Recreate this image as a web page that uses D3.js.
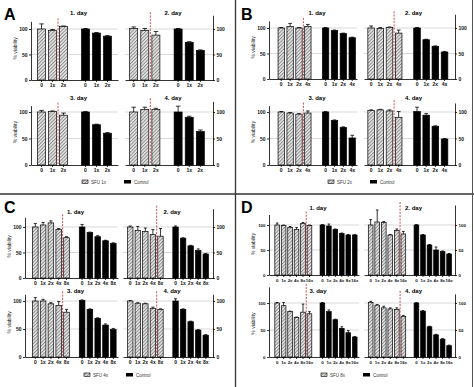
<!DOCTYPE html>
<html>
<head>
<meta charset="utf-8">
<script src="https://cdn.jsdelivr.net/npm/d3@7"></script>
<style>
  body { margin: 0; background: #fff; }
  svg { display: block; font-family: "Liberation Sans", Arial, sans-serif; }
  .axis path, .axis line { stroke: #000; stroke-width: 0.8; }
  .axis text { font-size: 5px; font-weight: bold; fill: #111; }
  .small .axis text { font-size: 4.4px; }
</style>
</head>
<body>
<div id="chart"></div>
<script>
var width = 474,
    height = 387;

var days = ["1. day", "2. day", "3. day", "4. day"];

var dosesA = ["0", "1x", "2x"];
var dosesB = ["0", "1x", "2x", "4x"];
var dosesC = ["0", "1x", "2x", "4x", "8x"];
var dosesD = ["0", "1x", "2x", "4x", "8x", "16x"];

var legendNames = ["SFU 1x", "SFU 2x", "SFU 4x", "SFU 8x"];

// SFU (hatched) means and errors, one row per day
var sfuA = [[100, 97, 105], [101, 97, 88], [100, 101, 94], [100, 105, 105]];
var sfuErrA = [[10, 2, 1], [3, 4, 7], [3, 1, 4], [9, 4, 2]];
var ctrlA = [[100, 92, 86], [100, 74, 58], [100, 76, 60], [100, 90, 63]];
var ctrlErrA = [[1, 1, 1], [1, 1, 1], [1, 1, 1], [11, 2, 3]];

var sfuB = [[100, 103, 100, 103], [100, 99, 101, 90], [100, 98, 96, 98], [103, 104, 102, 90]];
var sfuErrB = [[1, 6, 1, 4], [4, 2, 1, 6], [1, 1, 1, 4], [1, 1, 2, 11]];
var ctrlB = [[100, 95, 89, 81], [100, 77, 64, 53], [100, 84, 71, 51], [101, 94, 73, 49]];
var ctrlErrB = [[1, 1, 1, 1], [1, 1, 1, 1], [1, 1, 1, 5], [8, 3, 1, 1]];

var sfuC = [[100, 104, 108, 95, 79], [100, 93, 91, 85, 82], [100, 100, 95, 92, 80], [100, 96, 95, 87, 85]];
var sfuErrC = [[7, 5, 4, 2, 2], [2, 8, 7, 10, 15], [6, 3, 2, 7, 5], [1, 1, 1, 2, 1]];
var ctrlC = [[100, 89, 81, 73, 68], [100, 78, 63, 54, 47], [101, 85, 69, 57, 49], [100, 85, 63, 48, 39]];
var ctrlErrC = [[5, 1, 2, 1, 1], [2, 1, 1, 3, 1], [1, 1, 1, 2, 2], [4, 1, 1, 1, 1]];

var sfuD = [[100, 99, 95, 91, 103, 99], [100, 106, 105, 80, 89, 82], [100, 95, 84, 73, 83, 80], [101, 96, 91, 89, 88, 75]];
var sfuErrD = [[4, 1, 2, 4, 2, 1], [11, 24, 2, 1, 3, 5], [1, 6, 1, 1, 15, 4], [2, 1, 3, 2, 3, 2]];
var ctrlD = [[100, 98, 91, 83, 80, 80], [100, 80, 60, 50, 47, 42], [100, 84, 69, 53, 45, 37], [100, 85, 56, 41, 33, 21]];
var ctrlErrD = [[1, 4, 1, 1, 1, 1], [1, 1, 1, 6, 1, 1], [1, 3, 1, 3, 4, 1], [1, 1, 1, 1, 1, 1]];

// axis extents per day
var axisTopsA = [115, 127, 112, 120];
var axisTopsB = [114, 127, 112, 117];
var axisTopsC = [119, 136, 112, 112];
var axisTopsD = [121, 140, 130, 117];

var panels = [
  { id: "A", x: 0, y: 0, doses: dosesA, sfu: sfuA, sfuErr: sfuErrA, ctrl: ctrlA, ctrlErr: ctrlErrA, tops: axisTopsA,
    subL: [31, 118], subR: [125, 213], alignL: 0.5, alignR: 0.35,
    base1: 80, base2: 165, h1: 51, h2: 53, title1: 15, legend: legendNames[0], lgX: 82 },
  { id: "B", x: 237, y: 0, doses: dosesB, sfu: sfuB, sfuErr: sfuErrB, ctrl: ctrlB, ctrlErr: ctrlErrB, tops: axisTopsB,
    subL: [32, 120], subR: [127, 218], alignL: 0.85, alignR: 0.35,
    base1: 79, base2: 165, h1: 51, h2: 53, title1: 15, legend: legendNames[1], lgX: 91 },
  { id: "C", x: 0, y: 193, doses: dosesC, sfu: sfuC, sfuErr: sfuErrC, ctrl: ctrlC, ctrlErr: ctrlErrC, tops: axisTopsC,
    subL: [25, 118], subR: [123, 213], alignL: 0.8, alignR: 0.5,
    base1: 85, base2: 164, h1: 51, h2: 56, title1: 21, legend: legendNames[2], lgX: 84 },
  { id: "D", x: 237, y: 193, doses: dosesD, sfu: sfuD, sfuErr: sfuErrD, ctrl: ctrlD, ctrlErr: ctrlErrD, tops: axisTopsD,
    subL: [32, 122], subR: [127, 218], alignL: 0.75, alignR: 0.55,
    base1: 82, base2: 164, h1: 50, h2: 54, title1: 17, legend: legendNames[3], lgX: 84, small: true }
];

var svg = d3.select("#chart")
  .append("svg")
  .attr("width", width)
  .attr("height", height);

svg.append("rect").attr("width", width).attr("height", height).attr("fill", "#fff");

var pat = svg.append("defs").append("pattern")
  .attr("id", "hatch")
  .attr("patternUnits", "userSpaceOnUse")
  .attr("width", 2.4)
  .attr("height", 2.4)
  .attr("patternTransform", "rotate(45)");
pat.append("rect").attr("width", 2.4).attr("height", 2.4).attr("fill", "#e6e6e6");
pat.append("line").attr("x1", 0.5).attr("y1", 0).attr("x2", 0.5).attr("y2", 2.4)
  .attr("stroke", "#808080").attr("stroke-width", 0.85);

// panel separators
svg.append("line").attr("x1", 235.5).attr("x2", 235.5).attr("y1", 0).attr("y2", height)
  .attr("stroke", "#333").attr("stroke-width", 1.3);
svg.append("line").attr("x1", 0).attr("x2", width).attr("y1", 194).attr("y2", 194)
  .attr("stroke", "#333").attr("stroke-width", 1.3);
svg.append("line").attr("x1", 472.5).attr("x2", 472.5).attr("y1", 0).attr("y2", height)
  .attr("stroke", "#555").attr("stroke-width", 1);

panels.forEach(function(p) {
  var g = svg.append("g")
    .attr("class", p.small ? "small" : null)
    .attr("transform", "translate(" + p.x + "," + p.y + ")");

  g.append("text")
    .attr("x", 4).attr("y", 20)
    .attr("font-size", "16px")
    .attr("font-weight", "bold")
    .text(p.id);

  days.forEach(function(day, di) {
    var isLeft = di % 2 === 0;
    var row = di < 2 ? 0 : 1;
    var base = row === 0 ? p.base1 : p.base2;
    var h100 = row === 0 ? p.h1 : p.h2;
    var sub = isLeft ? p.subL : p.subR;
    var x0 = sub[0], x1 = sub[1];
    var top = p.tops[di];

    var y = d3.scaleLinear().domain([0, top]).range([base, base - top * h100 / 100]);

    var keys = p.doses.map(function(d) { return "s" + d; })
      .concat(["gap"])
      .concat(p.doses.map(function(d) { return "c" + d; }));
    var x = d3.scaleBand().domain(keys).range([x0, x1])
      .paddingInner(0.28).paddingOuter(0.6)
      .align(isLeft ? p.alignL : p.alignR);
    var bw = x.bandwidth();

    var sg = g.append("g");

    // grid lines
    sg.selectAll(".grid")
      .data([50, 100])
      .enter()
      .append("line")
      .attr("x1", x0).attr("x2", x1)
      .attr("y1", function(d) { return y(d); })
      .attr("y2", function(d) { return y(d); })
      .attr("stroke", "#cfcfcf")
      .attr("stroke-width", 0.8);

    var bars = [];
    p.doses.forEach(function(d, i) {
      bars.push({ key: "s" + d, v: p.sfu[di][i], e: p.sfuErr[di][i], type: "sfu" });
    });
    p.doses.forEach(function(d, i) {
      bars.push({ key: "c" + d, v: p.ctrl[di][i], e: p.ctrlErr[di][i], type: "ctrl" });
    });

    // error bars
    var eb = sg.selectAll(".err").data(bars).enter().append("g");
    eb.append("line")
      .attr("x1", function(d) { return x(d.key) + bw / 2; })
      .attr("x2", function(d) { return x(d.key) + bw / 2; })
      .attr("y1", function(d) { return y(d.v); })
      .attr("y2", function(d) { return y(d.v + d.e); })
      .attr("stroke", "#000").attr("stroke-width", 0.8);
    eb.append("line")
      .attr("x1", function(d) { return x(d.key) + bw * 0.22; })
      .attr("x2", function(d) { return x(d.key) + bw * 0.78; })
      .attr("y1", function(d) { return y(d.v + d.e); })
      .attr("y2", function(d) { return y(d.v + d.e); })
      .attr("stroke", "#000").attr("stroke-width", 0.8);

    sg.selectAll(".bar")
      .data(bars)
      .enter()
      .append("rect")
      .attr("x", function(d) { return x(d.key); })
      .attr("y", function(d) { return y(d.v); })
      .attr("width", bw)
      .attr("height", function(d) { return base - y(d.v); })
      .attr("fill", function(d) { return d.type === "sfu" ? "url(#hatch)" : "#000"; })
      .attr("stroke", "#000")
      .attr("stroke-width", 0.7);

    // red dashed marker between last two SFU bars
    var n = p.doses.length;
    var rx = (x("s" + p.doses[n - 2]) + bw + x("s" + p.doses[n - 1])) / 2;
    sg.append("line")
      .attr("x1", rx).attr("x2", rx)
      .attr("y1", y(top) - 3).attr("y2", base)
      .attr("stroke", "#c83a3a")
      .attr("stroke-width", 0.9)
      .attr("stroke-dasharray", "2,1.3");

    // x axis
    var xAxis = d3.axisBottom(x)
      .tickValues(keys.filter(function(k) { return k !== "gap"; }))
      .tickFormat(function(k) { return k.slice(1); })
      .tickSize(2)
      .tickSizeOuter(0)
      .tickPadding(1.5);
    sg.append("g")
      .attr("class", "axis")
      .attr("transform", "translate(0," + base + ")")
      .call(xAxis);

    // y axis
    var yAxis = (isLeft ? d3.axisLeft(y) : d3.axisRight(y))
      .tickValues([0, 50, 100])
      .tickSize(2)
      .tickSizeOuter(0)
      .tickPadding(1.5);
    sg.append("g")
      .attr("class", "axis")
      .attr("transform", "translate(" + (isLeft ? x0 : x1) + ",0)")
      .call(yAxis);

    // title
    sg.append("text")
      .attr("x", (x0 + x1) / 2 + 4)
      .attr("y", row === 0 ? p.title1 : 100)
      .attr("text-anchor", "middle")
      .attr("font-size", "6px")
      .attr("font-weight", "bold")
      .text(day);

    if (isLeft) {
      sg.append("text")
        .attr("transform", "translate(" + (x0 - 14) + "," + (base - h100 * 0.62) + ") rotate(-90)")
        .attr("text-anchor", "middle")
        .attr("font-size", "5px")
        .attr("fill", "#222")
        .text("% viability");
    }
  });

  // legend
  var lg = g.append("g").attr("transform", "translate(" + p.lgX + ",182)");
  lg.append("rect").attr("x", 0).attr("y", -2).attr("width", 6).attr("height", 3.5)
    .attr("fill", "url(#hatch)").attr("stroke", "#000").attr("stroke-width", 0.6);
  lg.append("text").attr("x", 9).attr("y", 1.6).attr("font-size", "4.5px").attr("fill", "#333").text(p.legend);
  lg.append("rect").attr("x", 42).attr("y", -2).attr("width", 7).attr("height", 3.5).attr("fill", "#000");
  lg.append("text").attr("x", 52).attr("y", 1.6).attr("font-size", "4.5px").attr("fill", "#333").text("Control");
});
</script>
</body>
</html>
